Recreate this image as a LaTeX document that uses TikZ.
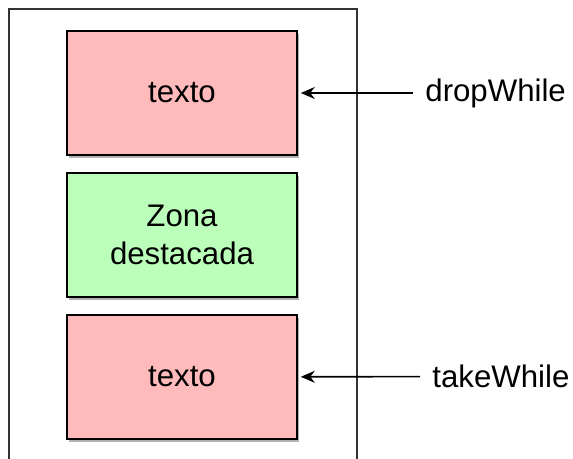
\documentclass[tikz,border=0pt]{standalone}
\usepackage{fontspec}
\setmainfont{Liberation Sans}
\usetikzlibrary{arrows.meta,positioning,shadows}
\definecolor{rojoclaro}{RGB}{255,187,187}
\definecolor{verdeclaro}{RGB}{187,255,187}
\tikzset{bloque/.style={draw=black,line width=0.8pt,minimum width=115pt,minimum height=62pt,align=center,
    drop shadow={shadow xshift=1pt,shadow yshift=-1.3pt,fill=black,opacity=0.3}}}
\tikzset{rojo/.style={bloque,fill=rojoclaro}}
\tikzset{verde/.style={bloque,fill=verdeclaro}}
\tikzset{etiqueta/.style={anchor=west,inner xsep=6pt,inner ysep=0pt}}
\tikzset{flecha/.style={-{Stealth[length=7pt,width=6pt]},line width=0.8pt,shorten >=1.5pt}}

\begin{document}
\begin{tikzpicture}[x=0.5pt,y=-0.5pt,node distance=71pt,on grid,font=\fontsize{15.6}{19}\selectfont]
        \useasboundingbox (0,0) rectangle (573,459);
        \draw[line width=1pt,draw=black!80] (9,459) -- (9,9) -- (357,9) -- (357,459);
        \node[rojo](arriba) at (182,93){texto};
        \node[verde](zona)[below=of arriba]{Zona\\destacada};
        \node[rojo](abajo)[below=of zona]{texto};
        \node[etiqueta](drop) at (413,93){dropWhile};
        \node[etiqueta](take) at (420,376.5){takeWhile};
        \draw[flecha] (drop) -- (arriba);
        \draw[flecha] (take) -- (abajo);
      \end{tikzpicture}
\end{document}
